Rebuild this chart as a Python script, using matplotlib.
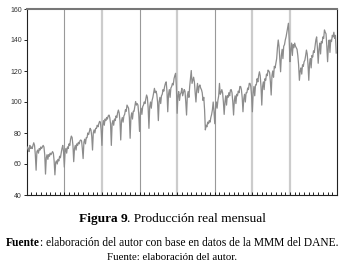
import numpy as np
import matplotlib.pyplot as plt

# indice de produccion real mensual (MMM DANE), ene-1980 a dic-2012
anios = list(range(1980, 2013))
produccion = [
    [69, 71, 70, 68, 72, 70, 71, 70, 72, 73.7, 72, 66],      # 1980
    [56, 68, 69, 67, 70, 69, 71, 70, 71, 72, 71, 66],        # 1981
    [53.5, 64, 66, 63, 66, 65, 67, 66, 67, 68, 67, 62],      # 1982
    [53, 61, 62, 60, 63, 62, 65, 64, 67, 70, 72, 68],        # 1983
    [58, 68, 70, 67, 71, 70, 73, 72, 76, 78, 77, 72],        # 1984
    [61.5, 70, 72, 69, 73, 72, 74, 73, 75, 75.5, 75, 70],    # 1985
    [63.5, 74, 76, 73, 77, 77, 80, 79, 81, 83, 82, 78],      # 1986
    [69, 80, 82, 80, 83, 83, 85, 84, 86, 87.5, 87, 82],      # 1987
    [72, 85, 88, 85, 89, 88, 90, 89, 91, 91.6, 90, 86],      # 1988
    [72, 86, 88, 85, 89, 88, 91, 90, 93, 94.8, 93, 88],      # 1989
    [75.5, 88, 90, 87, 91, 92, 95, 94, 98, 97, 96, 90],      # 1990
    [76.6, 90, 93, 89, 94, 94, 97, 100.3, 98, 99, 98, 92],   # 1991
    [81, 93, 96, 92, 97, 98, 100, 99, 102, 104.5, 103, 96],  # 1992
    [83, 97, 100, 96, 101, 103, 106, 108.8, 106, 107, 105, 100],  # 1993
    [88, 100, 103, 99, 104, 105, 108, 107, 110, 112, 113, 107],   # 1994
    [93.7, 105, 108, 103, 109, 110, 112, 111, 115, 117, 118.5, 110],  # 1995
    [92.7, 104, 106.7, 101, 105, 106, 108.8, 104, 106, 108, 107, 100],  # 1996
    [91.6, 104, 106.7, 103, 110, 115, 120.3, 112, 114, 116, 113, 106],  # 1997
    [100, 108, 112, 106, 110, 111, 109, 108, 106, 101, 103, 95],  # 1998
    [82, 85, 84, 87, 86, 88, 87, 90, 92, 95, 100, 94],        # 1999
    [86, 96, 100, 96, 101, 104, 112, 105, 106, 108, 106, 100],  # 2000
    [92, 100, 104, 98, 104, 103, 106, 104, 107.7, 108, 106, 100],  # 2001
    [91.6, 101, 104, 99, 105, 104, 107, 106, 110, 110, 108, 103],  # 2002
    [93.7, 102, 105, 100, 106, 106, 109, 108, 112, 112, 110, 104],  # 2003
    [93.7, 106, 110, 104, 111, 111, 115, 113, 117, 119.5, 117, 110],  # 2004
    [98, 110, 113, 108, 115, 114, 118, 117, 120.6, 120, 119, 113],  # 2005
    [104.5, 117, 120, 116, 123, 122, 125, 128, 135, 140, 136, 128],  # 2006
    [119.5, 130, 134, 128, 136, 137, 140, 142, 145, 148, 150.8, 140],  # 2007
    [126, 134, 138, 130, 137, 135, 138, 136, 135, 134, 130, 124],  # 2008
    [114, 120, 122, 118, 124, 123, 126, 127, 130, 133.5, 131, 124],  # 2009
    [114, 125, 128, 122, 130, 129, 133, 132, 136, 140, 142, 135],  # 2010
    [125, 134, 138, 131, 139, 138, 142, 141, 146.5, 145, 144, 136],  # 2011
    [126, 136, 140, 132, 140, 139, 143, 142, 145, 141, 143, 131.6],  # 2012
]
y_ticks = [40, 60, 80, 100, 120, 140, 160]
x_etiquetas = ['80', '82', '84', '86', '88', '90', '92', '94', '96', '98',
               '00', '02', '04', '06', '08', '10', '12']
lineas_v = [1984, 1988, 1992, 1996, 2000, 2004, 2008]
lineas_claras = [False, True, False, True, False, True, True]

valores = np.concatenate([np.array(v, dtype=float) for v in produccion])
fechas = np.concatenate([a + np.arange(12) / 12 for a in anios])

W, H = 345, 266
fig = plt.figure(figsize=(W / 100, H / 100), dpi=100)
ax = fig.add_axes([26.7 / W, 1 - 195 / H, (337 - 26.7) / W, (195 - 9) / H])

for xv, clara in zip(lineas_v, lineas_claras):
    if clara:
        ax.axvline(xv, color='#cccccc', lw=1.6, zorder=1)
    else:
        ax.axvline(xv, color='#999999', lw=0.8, zorder=1)

ax.plot(fechas, valores, color='#8c8c8c', lw=0.9, zorder=3)

ax.set_xlim(1980, 2013)
ax.set_ylim(40, 160)
ax.set_yticks(y_ticks)
ax.set_yticklabels([str(v) for v in y_ticks], fontsize=5, family='Liberation Sans', color='#333333')
ax.set_xticks(np.arange(1980, 2013.01, 0.5))
ax.set_xticklabels([])
ax.set_xticks([1980.5 + 2 * i for i in range(len(x_etiquetas))], minor=True)
ax.set_xticklabels(x_etiquetas, minor=True, fontsize=5, family='Liberation Sans', color='#333333')
ax.tick_params(axis='x', which='major', direction='in', length=2.5, width=0.6)
ax.tick_params(axis='x', which='minor', length=0, pad=3)
ax.tick_params(axis='y', direction='out', length=2, width=0.6, pad=1.5)

ax.spines['top'].set_color('#777777')
ax.spines['top'].set_linewidth(1.5)
for s in ['left', 'right', 'bottom']:
    ax.spines[s].set_color('#222222')
    ax.spines[s].set_linewidth(0.8)

renderer = fig.canvas.get_renderer()


def linea_mixta(y_px, partes, size):
    textos = [fig.text(0, 1 - y_px / H, s, fontsize=size, fontweight=w,
                       family='Liberation Serif', va='center')
              for s, w in partes]
    anchos = [t.get_window_extent(renderer).width for t in textos]
    x = (W - sum(anchos)) / 2
    for t, a in zip(textos, anchos):
        t.set_x(x / W)
        x += a


linea_mixta(219, [('Figura 9', 'bold'), ('. Producción real mensual', 'normal')], 9.6)
linea_mixta(243, [('Fuente', 'bold'),
                  (': elaboración del autor con base en datos de la MMM del DANE.', 'normal')], 8.3)
linea_mixta(258, [('Fuente: elaboración del autor.', 'normal')], 7.8)

fig.savefig('out.png', dpi=100)
